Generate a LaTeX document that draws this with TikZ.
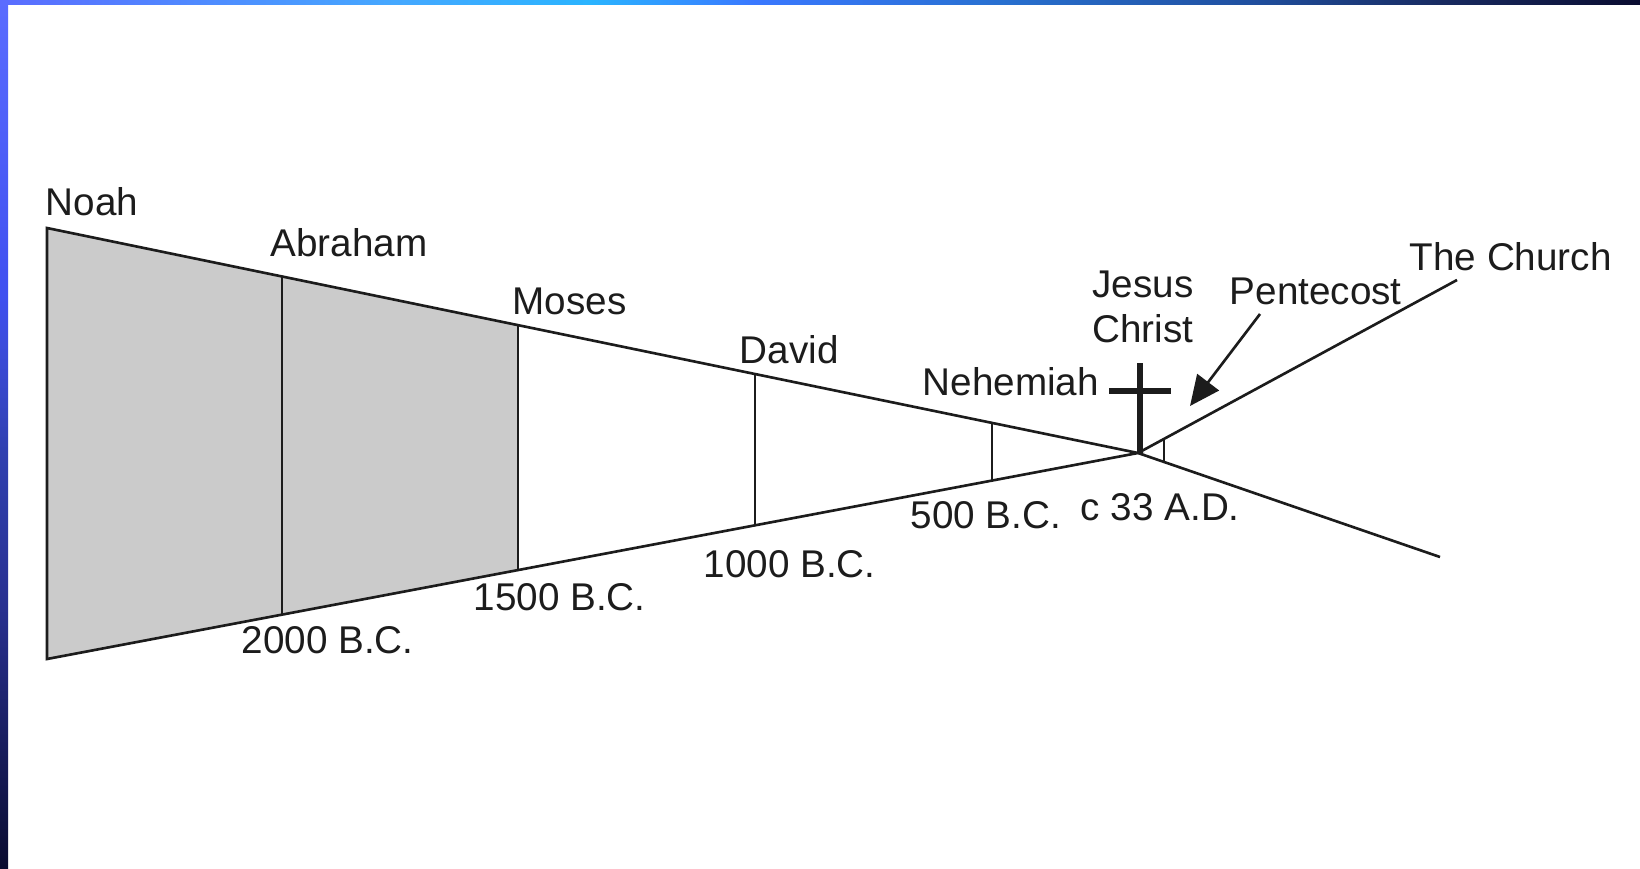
\documentclass[tikz,border=0pt]{standalone}
\usepackage{fontspec}
\setmainfont{Liberation Sans}
\usetikzlibrary{arrows.meta,calc}

\definecolor{inkgray}{HTML}{1C1C1C}
\definecolor{wedgegray}{HTML}{CBCBCB}

% frame bands
\pgfdeclarehorizontalshading{topband}{100bp}{color(0bp)=(rgb,255:red,90;green,108;blue,255);
  color(25bp)=(rgb,255:red,90;green,108;blue,255);
  color(37bp)=(rgb,255:red,69;green,168;blue,255);
  color(43bp)=(rgb,255:red,42;green,180;blue,255);
  color(48bp)=(rgb,255:red,58;green,120;blue,255);
  color(55.5bp)=(rgb,255:red,40;green,112;blue,208);
  color(63bp)=(rgb,255:red,32;green,80;blue,160);
  color(69bp)=(rgb,255:red,24;green,42;blue,96);
  color(75bp)=(rgb,255:red,10;green,12;blue,48);
  color(100bp)=(rgb,255:red,10;green,12;blue,48)}
\pgfdeclareverticalshading{leftband}{100bp}{color(0bp)=(rgb,255:red,10;green,12;blue,48);
  color(25bp)=(rgb,255:red,10;green,12;blue,48);
  color(40bp)=(rgb,255:red,40;green,48;blue,144);
  color(49bp)=(rgb,255:red,48;green,64;blue,176);
  color(58bp)=(rgb,255:red,64;green,80;blue,240);
  color(75bp)=(rgb,255:red,90;green,108;blue,255);
  color(100bp)=(rgb,255:red,90;green,108;blue,255)}

\tikzset{
  timeline/.style={draw=inkgray, line width=0.75pt},
  crossbar/.style={draw=inkgray, line width=1.6pt},
  eventname/.style={font=\fontsize{11}{13}\selectfont, text=inkgray, inner sep=0pt, anchor=base west},
}

\begin{document}
\begin{tikzpicture}
\useasboundingbox (0,0) rectangle (16.40,8.68);
\shade[shading=topband] (0,8.63) rectangle (16.40,8.68);
\shade[shading=leftband] (0,0) rectangle (0.08,8.68);

% Old Testament wedge
\coordinate (noaht) at (0.47,6.40);
\coordinate (noahb) at (0.47,2.09);
\coordinate (apex)  at (11.38,4.15);

\coordinate (abrt) at ($(noaht)!0.2154!(apex)$);
\coordinate (abrb) at ($(noahb)!0.2154!(apex)$);
\coordinate (most) at ($(noaht)!0.4317!(apex)$);
\coordinate (mosb) at ($(noahb)!0.4317!(apex)$);
\coordinate (davt) at ($(noaht)!0.649!(apex)$);
\coordinate (davb) at ($(noahb)!0.649!(apex)$);
\coordinate (neht) at ($(noaht)!0.8662!(apex)$);
\coordinate (nehb) at ($(noahb)!0.8662!(apex)$);

% After the cross
\coordinate (church) at (14.57,5.88);
\coordinate (beyond) at (14.40,3.11);
\coordinate (tickt)  at (11.64,4.29);
\coordinate (tickb)  at (11.64,4.06);

\coordinate (crosst) at (11.40,5.05);
\coordinate (arml)   at (11.09,4.77);
\coordinate (armr)   at (11.71,4.77);

\coordinate (pentef) at (12.60,5.54);
\coordinate (pentet) at (11.90,4.62);

\fill[wedgegray] (noaht) -- (most) -- (mosb) -- (noahb) -- cycle;

\draw[timeline] (noahb) -- (noaht) -- (apex) -- cycle;
\draw[timeline] (abrt) -- (abrb);
\draw[timeline] (most) -- (mosb);
\draw[timeline] (davt) -- (davb);
\draw[timeline] (neht) -- (nehb);
\draw[timeline] (apex) -- (church);
\draw[timeline] (apex) -- (beyond);
\draw[timeline] (tickt) -- (tickb);

\draw[crossbar] (crosst) -- (crosst |- apex);
\draw[crossbar] (arml) -- (armr);
\draw[timeline, -{Triangle[length=3mm,width=2.7mm]}] (pentef) -- (pentet);

% Names
\node[eventname] (noah)  at (0.45,6.53) {Noah};
\node[eventname] (abr)   at (2.70,6.12) {Abraham};
\node[eventname] (mos)   at (5.12,5.54) {Moses};
\node[eventname] (dav)   at (7.39,5.05) {David};
\node[eventname] (neh)   at (9.22,4.73) {Nehemiah};
\node[eventname, anchor=base] (jesus)  at (11.43,5.71) {Jesus};
\node[eventname, anchor=base] (christ) at (11.43,5.26) {Christ};
\node[eventname] (pente) at (12.29,5.64) {Pentecost};
\node[eventname] (chur)  at (14.09,5.98) {The Church};

% Dates
\node[eventname] (d2000) at (2.41,2.15) {2000 B.C.};
\node[eventname] (d1500) at (4.73,2.58) {1500 B.C.};
\node[eventname] (d1000) at (7.03,2.91) {1000 B.C.};
\node[eventname] (d500)  at (9.10,3.40) {500 B.C.};
\node[eventname] (d33)   at (10.80,3.48) {c 33 A.D.};
\end{tikzpicture}
\end{document}
